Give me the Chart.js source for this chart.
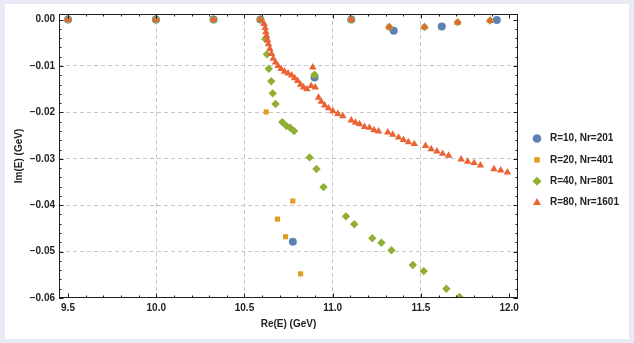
<!DOCTYPE html>
<html>
<head>
<meta charset="utf-8">
<script src="https://cdn.jsdelivr.net/npm/chart.js@4/dist/chart.umd.min.js"></script>
<style>
    body { margin: 0; background: #e9eaf5; }
    #card { position: absolute; left: 5px; top: 4px; width: 624px; height: 335px; background: #fff; }
</style>
</head>
<body>
<div id="card"><canvas id="spectrumChart"></canvas></div>
<script>
const xTicks = [9.5, 10.0, 10.5, 11.0, 11.5, 12.0];
const yTicks = [0, -0.01, -0.02, -0.03, -0.04, -0.05, -0.06];
const seriesNames = ['R=10, Nr=201', 'R=20, Nr=401', 'R=40, Nr=801', 'R=80, Nr=1601'];

// R=10, Nr=201
const r10Re = [9.5, 9.998, 10.325, 10.59, 10.774, 10.897, 11.105, 11.346, 11.618, 11.93];
const r10Im = [0, 0, 0, 0, -0.0479, -0.0125, 0, -0.0024, -0.0015, -0.0001];

// R=20, Nr=401
const r20Re = [9.5, 9.998, 10.325, 10.59, 10.623, 10.687, 10.733, 10.774, 10.818, 10.895,
    11.105, 11.32, 11.52, 11.708, 11.892];
const r20Im = [0, 0, 0, 0, -0.0199, -0.0430, -0.0468, -0.0391, -0.0548, -0.0120,
    0, -0.0016, -0.0016, -0.0006, -0.0002];

// R=40, Nr=801
const r40Re = [9.5, 9.998, 10.325, 10.59, 10.618, 10.627, 10.638, 10.652, 10.660, 10.676,
    10.714, 10.737, 10.759, 10.781, 10.869, 10.897, 10.908, 10.948, 11.075, 11.105,
    11.122, 11.224, 11.276, 11.32, 11.333, 11.454, 11.516, 11.52, 11.644, 11.708,
    11.718, 11.892];
const r40Im = [0, 0, 0, 0, -0.0042, -0.0075, -0.0106, -0.0133, -0.0159, -0.0182,
    -0.0221, -0.0229, -0.0233, -0.0240, -0.0297, -0.0119, -0.0322, -0.0361, -0.0424, 0,
    -0.0441, -0.0471, -0.0481, -0.0016, -0.0497, -0.0529, -0.0542, -0.0016, -0.0580, -0.0006,
    -0.0598, -0.0002];

// R=80, Nr=1601
const r80Re = [9.5, 9.998, 10.325, 10.59, 10.611, 10.617, 10.621, 10.625, 10.631, 10.636,
    10.644, 10.653, 10.663, 10.676, 10.690, 10.707, 10.727, 10.747, 10.767, 10.784,
    10.801, 10.818, 10.835, 10.854, 10.878, 10.887, 10.901, 10.920, 10.935, 10.954,
    10.976, 11.001, 11.029, 11.057, 11.105, 11.105, 11.129, 11.152, 11.180, 11.208,
    11.234, 11.260, 11.312, 11.32, 11.340, 11.373, 11.401, 11.429, 11.462, 11.52,
    11.526, 11.558, 11.591, 11.623, 11.657, 11.708, 11.728, 11.765, 11.801, 11.837,
    11.892, 11.914, 11.952, 11.990];
const r80Im = [0, 0, 0, 0, -0.0009, -0.0018, -0.0027, -0.0035, -0.0044, -0.0053,
    -0.0063, -0.0074, -0.0084, -0.0092, -0.0100, -0.0106, -0.0112, -0.0116, -0.0120, -0.0126,
    -0.0132, -0.0140, -0.0146, -0.0150, -0.0143, -0.0103, -0.0146, -0.0168, -0.0177, -0.0185,
    -0.0191, -0.0197, -0.0203, -0.0208, 0, -0.0217, -0.0222, -0.0225, -0.0231, -0.0233,
    -0.0238, -0.0241, -0.0243, -0.0016, -0.0248, -0.0254, -0.0259, -0.0264, -0.0268, -0.0016,
    -0.0272, -0.0279, -0.0284, -0.0289, -0.0293, -0.0006, -0.0301, -0.0306, -0.0309, -0.0314,
    -0.0002, -0.0322, -0.0325, -0.0329];

const colors = ['#5e81b5', '#e19c24', '#8fb032', '#eb6235'];
const styles = ['circle', 'rect', 'rectRot', 'triangle'];
const radii = [4, 3.6, 4.2, 4.3];

function points(re, im) {
    return re.map((v, i) => ({ x: v, y: im[i] }));
}

const allRe = [r10Re, r20Re, r40Re, r80Re];
const allIm = [r10Im, r20Im, r40Im, r80Im];

const textColor = '#222';
const tickFont = { family: "'Liberation Sans', Arial, sans-serif", size: 10, weight: 'bold' };

function fmtY(v) {
    return v.toFixed(2).replace('-', '\u2212');
}

function gridColor(edges) {
    return function (c) {
        if (c.tick && edges.some(e => Math.abs(e - c.tick.value) < 1e-9)) return 'rgba(0,0,0,0)';
        return '#c8c8c8';
    };
}

// frame with inward ticks on all four sides
const framePlugin = {
    id: 'frame',
    afterDatasetsDraw(chart) {
        const ctx = chart.ctx;
        const a = chart.chartArea;
        const x = chart.scales.x, y = chart.scales.y;
        ctx.save();
        ctx.strokeStyle = '#1e1e1e';
        ctx.lineWidth = 1;
        ctx.strokeRect(Math.round(a.left) + 0.5, Math.round(a.top) + 0.5,
            Math.round(a.right) - Math.round(a.left) - 1, Math.round(a.bottom) - Math.round(a.top) - 1);
        ctx.beginPath();
        for (let i = 95; i <= 120; i++) {
            const px = Math.round(x.getPixelForValue(i / 10)) + 0.5;
            const len = i % 5 === 0 ? 4.5 : 2.5;
            ctx.moveTo(px, a.bottom); ctx.lineTo(px, a.bottom - len);
            ctx.moveTo(px, a.top); ctx.lineTo(px, a.top + len);
        }
        for (let j = 0; j <= 30; j++) {
            const py = Math.round(y.getPixelForValue(-j * 0.002)) + 0.5;
            const len = j % 5 === 0 ? 4.5 : 2.5;
            ctx.moveTo(a.left, py); ctx.lineTo(a.left + len, py);
            ctx.moveTo(a.right, py); ctx.lineTo(a.right - len, py);
        }
        ctx.stroke();
        ctx.restore();
    }
};

const legendPlugin = {
    id: 'sideLegend',
    afterDraw(chart) {
        const ctx = chart.ctx;
        ctx.save();
        ctx.font = "bold 10px 'Liberation Sans', Arial, sans-serif";
        ctx.textBaseline = 'middle';
        seriesNames.forEach((name, i) => {
            const cy = 134.5 + i * 21.4;
            ctx.fillStyle = colors[i];
            ctx.strokeStyle = colors[i];
            Chart.helpers.drawPoint(ctx, { pointStyle: styles[i], radius: radii[i] + 0.3, rotation: 0, borderWidth: 0 }, 532, cy);
            ctx.fillStyle = textColor;
            ctx.fillText(name, 545, cy);
        });
        ctx.restore();
    }
};

new Chart('spectrumChart', {
    type: 'scatter',
    data: {
        datasets: seriesNames.map((name, i) => ({
            label: name,
            data: points(allRe[i], allIm[i]),
            pointStyle: styles[i],
            pointRadius: radii[i],
            pointHoverRadius: radii[i],
            backgroundColor: colors[i],
            borderColor: colors[i],
            pointBorderWidth: 0,
            order: 3 - i
        }))
    },
    options: {
        responsive: true,
        maintainAspectRatio: false,
        animation: false,
        layout: { padding: { left: 0, top: 10, right: 111, bottom: 0 } },
        plugins: {
            legend: { display: false },
            tooltip: { enabled: false }
        },
        scales: {
            x: {
                type: 'linear',
                min: 9.449,
                max: 12.05,
                afterBuildTicks: s => { s.ticks = xTicks.map(v => ({ value: v })); },
                afterFit: s => { s.height = 41; },
                ticks: {
                    font: tickFont,
                    color: textColor,
                    padding: 4,
                    maxRotation: 0,
                    callback: v => v.toFixed(1)
                },
                grid: { color: gridColor([9.5, 12.0]), drawTicks: false, lineWidth: 1 },
                border: { display: false, dash: [4, 3] },
                title: {
                    display: true,
                    text: 'Re(E) (GeV)',
                    font: tickFont,
                    color: textColor,
                    padding: { top: 0, bottom: 9 }
                }
            },
            y: {
                type: 'linear',
                min: -0.06,
                max: 0.0012,
                afterBuildTicks: s => { s.ticks = yTicks.map(v => ({ value: v })); },
                afterFit: s => { s.width = 54; },
                ticks: {
                    font: tickFont,
                    color: textColor,
                    padding: 4,
                    callback: v => fmtY(v)
                },
                grid: { color: gridColor([0, -0.06]), drawTicks: false, lineWidth: 1 },
                border: { display: false, dash: [4, 3] },
                title: {
                    display: true,
                    text: 'Im(E) (GeV)',
                    font: tickFont,
                    color: textColor,
                    padding: { top: 8, bottom: 0 }
                }
            }
        }
    },
    plugins: [framePlugin, legendPlugin]
});
</script>
</body>
</html>
